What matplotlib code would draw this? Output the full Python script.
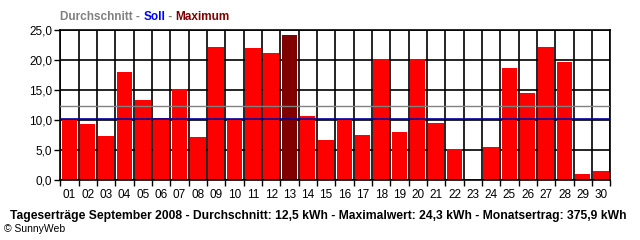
import matplotlib
matplotlib.use("Agg")
import matplotlib.pyplot as plt
import numpy as np

days = ["01","02","03","04","05","06","07","08","09","10","11","12","13","14","15",
        "16","17","18","19","20","21","22","23","24","25","26","27","28","29","30"]
values = [10.1, 9.4, 7.4, 18.0, 13.4, 10.4, 15.2, 7.2, 22.2, 10.0,
          22.0, 21.2, 24.3, 10.7, 6.7, 10.2, 7.5, 20.2, 8.0, 20.2,
          9.5, 5.2, 0.3, 5.5, 18.7, 14.5, 22.2, 19.7, 1.0, 1.5]
avg_line = 12.35
soll_line = 10.15
yticks = [0, 5, 10, 15, 20, 25]
ytick_labels = ["0,0", "5,0", "10,0", "15,0", "20,0", "25,0"]
footer = "Tageserträge September 2008 - Durchschnitt: 12,5 kWh - Maximalwert: 24,3 kWh - Monatsertrag: 375,9 kWh"

plt.rcParams['font.family'] = ['Liberation Sans', 'DejaVu Sans']

fig = plt.figure(figsize=(6.4, 2.4), dpi=100)
ax = fig.add_axes([60.3/640, (240-180.3)/240, 550/640, 150/240])

x = np.arange(1, len(values)+1)
vmax = max(values)
colors = ['#800000' if v == vmax else '#ff0000' for v in values]
ax.bar(x, values, width=0.84, color=colors, zorder=2, linewidth=0)

ax.axhline(avg_line, color='#808080', lw=1.0, zorder=3)
ax.axhline(soll_line, color='#0000a0', lw=1.2, zorder=3)

ax.set_xlim(0.5, len(values)+0.5)
ax.set_ylim(0, 25)
ax.set_xticks(np.arange(0.5, len(values)+1, 1))
ax.set_xticklabels([])
ax.set_xticks(x, minor=True)
ax.set_xticklabels(days, minor=True, fontsize=8.5)
ax.tick_params(axis='x', which='major', direction='out', length=4, width=1, color='black')
ax.tick_params(axis='x', which='minor', length=0, pad=6)
ax.set_yticks(yticks)
ax.set_yticklabels(ytick_labels, fontsize=8.5)
ax.tick_params(axis='y', direction='out', length=4, width=1, pad=2)
ax.grid(True, which='major', color='black', lw=1.2, zorder=1)
ax.set_axisbelow(True)
for s in ax.spines.values():
    s.set_color('black')
    s.set_linewidth(1.2)

# legend-like title
fs = 8.5
t1 = fig.text(60/640, 1-17/240, "Durchschnitt - ", color='#808080', fontsize=fs, fontweight='bold', va='center')
fig.canvas.draw()
r = fig.canvas.get_renderer()
bb = t1.get_window_extent(r)
t2 = fig.text(bb.x1/640, 1-17/240, "Soll", color='#0000ff', fontsize=fs, fontweight='bold', va='center')
bb2 = t2.get_window_extent(r)
t3 = fig.text(bb2.x1/640, 1-17/240, " - ", color='#808080', fontsize=fs, fontweight='bold', va='center')
bb3 = t3.get_window_extent(r)
fig.text(bb3.x1/640, 1-17/240, "Maximum", color='#800000', fontsize=fs, fontweight='bold', va='center')

fig.text(10/640, 1-216/240, footer, fontsize=8.7, fontweight='bold', va='center', ha='left')
fig.text(4/640, 1-229/240, "© SunnyWeb", fontsize=7.5, va='center', ha='left')

fig.savefig("out.png", dpi=100)
